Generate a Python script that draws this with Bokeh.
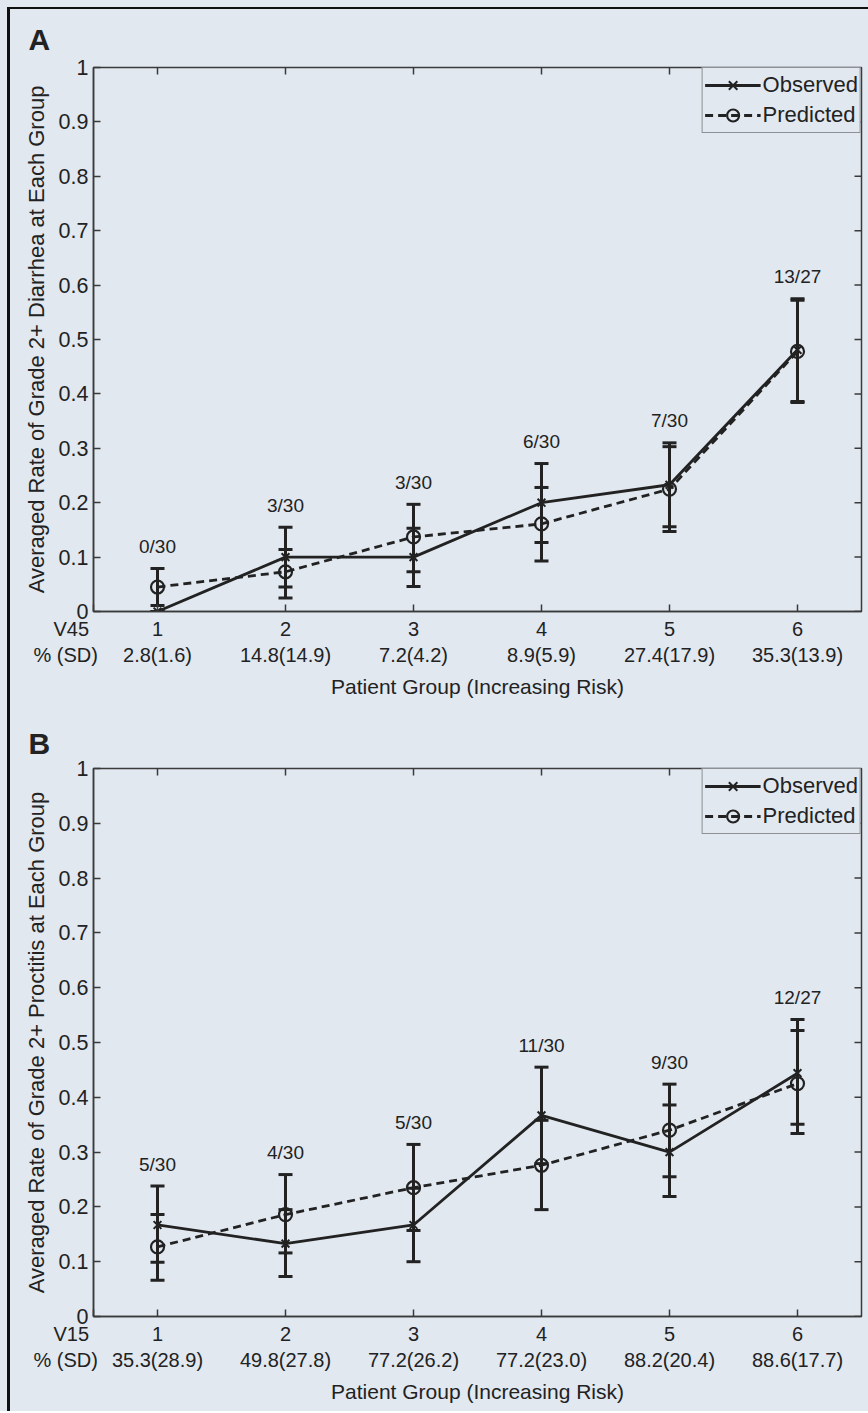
from bokeh.plotting import figure
from bokeh.models import (ColumnDataSource, FixedTicker, Range1d, Whisker, TeeHead,
                          Legend, LegendItem)
from bokeh.layouts import column
from bokeh.embed import file_html
from bokeh.resources import INLINE
from bokeh.core.properties import value

groups = [1, 2, 3, 4, 5, 6]

# ---- Panel A: Grade 2+ diarrhea ----
a_observed = [0.0, 0.1, 0.1, 0.2, 0.233, 0.481]
a_obs_lower = [0.0, 0.045, 0.046, 0.127, 0.156, 0.384]
a_obs_upper = [0.0, 0.155, 0.153, 0.272, 0.310, 0.575]
a_predicted = [0.045, 0.073, 0.137, 0.161, 0.225, 0.478]
a_pred_lower = [0.011, 0.025, 0.073, 0.093, 0.147, 0.386]
a_pred_upper = [0.079, 0.114, 0.197, 0.228, 0.303, 0.572]
a_counts = ["0/30", "3/30", "3/30", "6/30", "7/30", "13/27"]
a_dose = ["2.8(1.6)", "14.8(14.9)", "7.2(4.2)", "8.9(5.9)", "27.4(17.9)", "35.3(13.9)"]

# ---- Panel B: Grade 2+ proctitis ----
b_observed = [0.167, 0.133, 0.167, 0.367, 0.300, 0.444]
b_obs_lower = [0.099, 0.073, 0.100, 0.279, 0.219, 0.351]
b_obs_upper = [0.238, 0.195, 0.234, 0.455, 0.386, 0.542]
b_predicted = [0.127, 0.186, 0.235, 0.276, 0.340, 0.425]
b_pred_lower = [0.066, 0.116, 0.157, 0.195, 0.255, 0.334]
b_pred_upper = [0.186, 0.259, 0.314, 0.358, 0.424, 0.522]
b_counts = ["5/30", "4/30", "5/30", "11/30", "9/30", "12/27"]
b_dose = ["35.3(28.9)", "49.8(27.8)", "77.2(26.2)", "77.2(23.0)", "88.2(20.4)", "88.6(17.7)"]

y_ticks = [0, 0.1, 0.2, 0.3, 0.4, 0.5, 0.6, 0.7, 0.8, 0.9, 1]
y_tick_labels = ["0", "0.1", "0.2", "0.3", "0.4", "0.5", "0.6", "0.7", "0.8", "0.9", "1"]

BG = "#e1e8f0"
INK = "#222222"
AX = "#3a3a3a"
FONT = "Liberation Sans"
W = 858
BORDER_L = 83
BORDER_R = 7
FRAME_W = W - BORDER_L - BORDER_R
TICK = 7
NBSP = "\u00a0"


def make_panel(letter, letter_standoff, obs, ol, ou, pred, pl, pu, counts, dose,
               dose_name, ylabel, height, top, bottom):
    frame_h = height - top - bottom
    p = figure(width=W, height=height, x_range=Range1d(0.5, 6.5), y_range=Range1d(0, 1),
               output_backend="svg", toolbar_location=None,
               min_border_left=BORDER_L, min_border_right=BORDER_R,
               min_border_top=top, min_border_bottom=bottom,
               background_fill_color=BG, border_fill_color=BG,
               outline_line_color=AX, outline_line_width=1.5)
    p.xgrid.visible = False
    p.ygrid.visible = False

    # panel letter
    p.title.text = letter
    p.title.align = "left"
    p.title.offset = -65
    p.title.standoff = letter_standoff
    p.title.text_font = FONT
    p.title.text_font_size = "30px"
    p.title.text_font_style = "bold"
    p.title.text_color = INK

    # x axis: group number over dose statistics; the row name sits at the left edge
    xa = p.xaxis[0]
    xa.ticker = FixedTicker(ticks=[0.5] + groups)
    overrides = {g: f"{g}\n{d}" for g, d in zip(groups, dose)}
    overrides[0.5] = dose_name + NBSP * 8 + "\n% (SD)" + NBSP * 10
    xa.major_label_overrides = overrides
    xa.axis_label = "Patient Group (Increasing Risk)"
    ya = p.yaxis[0]
    ya.ticker = FixedTicker(ticks=y_ticks)
    ya.major_label_overrides = {t: l for t, l in zip(y_ticks, y_tick_labels)}
    ya.axis_label = ylabel
    for ax in (xa, ya):
        ax.major_tick_in = TICK
        ax.major_tick_out = 0
        ax.minor_tick_in = 0
        ax.minor_tick_out = 0
        ax.axis_line_color = AX
        ax.axis_line_width = 1.5
        ax.major_tick_line_color = AX
        ax.major_tick_line_width = 1.5
        ax.major_label_text_font = FONT
        ax.major_label_text_color = INK
        ax.axis_label_text_font = FONT
        ax.axis_label_text_font_style = "normal"
        ax.axis_label_text_color = INK
    xa.major_label_text_font_size = "20px"
    xa.axis_label_text_font_size = "21px"
    ya.major_label_text_font_size = "21.5px"
    ya.axis_label_text_font_size = "22px"
    xa.major_label_standoff = 6
    xa.axis_label_standoff = 6
    ya.major_label_standoff = 5
    ya.axis_label_standoff = 7

    # inward ticks on the top and right edges of the box
    dy = TICK / frame_h
    dx = TICK * 6.0 / FRAME_W
    p.segment(x0=groups, y0=[1] * len(groups), x1=groups, y1=[1 - dy] * len(groups),
              line_color=AX, line_width=1.5)
    p.segment(x0=[6.5] * len(y_ticks), y0=y_ticks, x1=[6.5 - dx] * len(y_ticks), y1=y_ticks,
              line_color=AX, line_width=1.5)

    # error bars
    for lo, hi in ((ol, ou), (pl, pu)):
        src = ColumnDataSource(dict(x=groups, lower=lo, upper=hi))
        w = Whisker(source=src, base="x", lower="lower", upper="upper",
                    line_color=INK, line_width=3,
                    upper_head=TeeHead(size=14, line_color=INK, line_width=3),
                    lower_head=TeeHead(size=14, line_color=INK, line_width=3))
        p.add_layout(w)

    obs_line = p.line(groups, obs, line_color=INK, line_width=2.8)
    obs_mark = p.scatter(groups, obs, marker="x", size=11, line_color=INK, line_width=2)
    pred_line = p.line(groups, pred, line_color=INK, line_width=2.8, line_dash="8 5")
    pred_mark = p.scatter(groups, pred, marker="circle", size=13, fill_color=None,
                          line_color=INK, line_width=2.2)

    # counts above the bars
    tops = [max(a, b) for a, b in zip(ou, pu)]
    p.text(x=groups, y=tops, text=counts, text_align="center", text_baseline="middle",
           y_offset=-22, text_font=value(FONT), text_font_size="19px", text_color=INK)

    legend = Legend(items=[LegendItem(label="Observed", renderers=[obs_line, obs_mark]),
                           LegendItem(label="Predicted", renderers=[pred_line, pred_mark])],
                    location="top_right", margin=0, padding=2, spacing=-2,
                    glyph_width=56, glyph_height=30, label_height=30, label_standoff=2,
                    label_text_font=FONT, label_text_font_size="22px", label_text_color=INK,
                    border_line_color=AX, border_line_width=1.5,
                    background_fill_color=BG, background_fill_alpha=1.0)
    p.add_layout(legend)
    return p


pA = make_panel("A", 23, a_observed, a_obs_lower, a_obs_upper, a_predicted, a_pred_lower,
                a_pred_upper, a_counts, a_dose, "V45",
                "Averaged Rate of Grade 2+ Diarrhea at Each Group",
                height=691, top=57, bottom=87)
pB = make_panel("B", 17, b_observed, b_obs_lower, b_obs_upper, b_predicted, b_pred_lower,
                b_pred_upper, b_counts, b_dose, "V15",
                "Averaged Rate of Grade 2+ Proctitis at Each Group",
                height=711, top=68, bottom=95)

inner = column(pA, pB, spacing=0,
               styles={"border-left": "3px solid #111111", "border-top": "2px solid #111111"})
page = column(inner, styles={"padding": "7px 0px 0px 7px", "background-color": BG})

open("out.html", "w").write(file_html(page, INLINE))
